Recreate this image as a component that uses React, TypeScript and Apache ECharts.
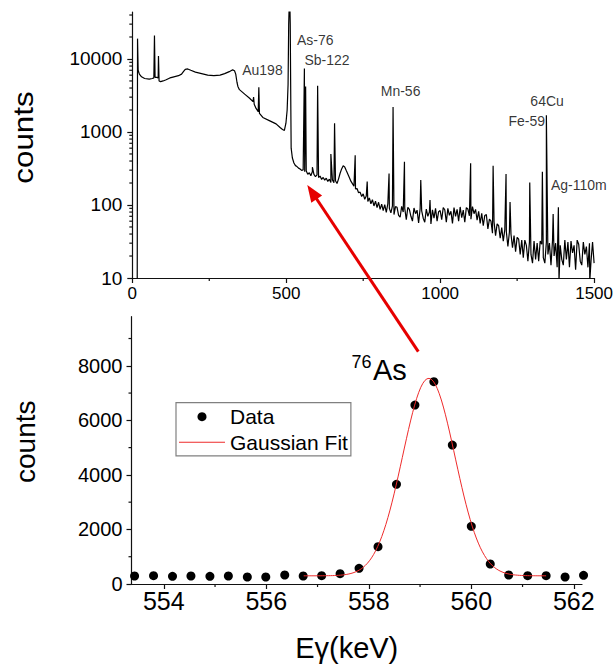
import React, { useEffect, useRef } from 'react';
import * as echarts from 'echarts';

const FONT = '"Liberation Sans", Arial, Helvetica, sans-serif';

// ---------------- Top panel: full gamma spectrum (keV, counts) ----------------
// low-energy part, irregular sampling [energy, counts]
const SPEC_LOW: [number, number][] = [
  [16, 9], [17, 19000], [19, 7000], [23, 6200], [30, 5700], [40, 5400], [55, 5300], [65, 5400],
  [70, 5500], [72, 21000], [74, 5600], [80, 5600], [84, 5500], [85, 11000], [87, 5000], [92, 4900],
  [100, 5000], [110, 5200], [122, 5500], [135, 5700], [150, 5900], [160, 6200], [166, 6700], [172, 7200],
  [180, 7300], [190, 7000], [205, 6600], [225, 6300], [245, 6000], [265, 5900], [285, 6000], [300, 6300],
  [315, 6700], [326, 7100], [332, 6900], [336, 6200], [340, 4800], [343, 4200], [348, 3800], [365, 3300],
  [381, 2900], [392, 2600], [394, 3000], [396, 2400], [402, 2100], [409, 1900], [411, 4100], [413, 1800],
  [424, 1580], [445, 1430], [467, 1290], [480, 1150], [488, 1080], [494, 1050], [499, 1320], [503, 2000],
  [506, 4500], [508, 30000], [511, 90000], [513, 30000], [515, 2000], [516, 600],
];
// continuum channels from 520 keV in 5 keV steps
const SPEC_CONT_START = 520;
const SPEC_CONT_STEP = 5;
const SPEC_CONT: number[] = [
  440, 376, 346, 336, 320, 311, 298, 302, 286, 292,
  264, 276, 251, 288, 263, 244, 259, 238, 249, 224,
  238, 219, 233, 210, 226, 204, 221, 202, 215, 197,
  228, 272, 312, 344, 332, 296, 266, 238, 212, 196,
  181, 166, 168, 147, 150, 131, 142, 120, 133, 112,
  125, 104, 118, 97, 113, 92, 109, 87, 103, 84,
  101, 79, 104, 90, 78, 97, 74, 95, 93, 72,
  68, 96, 80, 90, 63, 93, 87, 70, 60, 91,
  76, 85, 57, 89, 83, 66, 58, 88, 70, 80,
  55, 86, 66, 90, 60, 81, 84, 63, 92, 86,
  58, 90, 72, 82, 56, 92, 70, 87, 60, 94,
  67, 85, 58, 92, 88, 71, 64, 95, 76, 87,
  62, 82, 56, 77, 52, 72, 74, 47, 64, 60,
  41, 59, 38, 55, 52, 35, 49, 32, 46, 43,
  27, 43, 40, 26, 38, 23, 36, 34, 21, 33,
  19, 33, 28, 17, 31, 21, 16, 32, 18, 30,
  17, 32, 29, 19, 16, 31, 21, 30, 15, 33,
  20, 30, 14, 32, 28, 18, 15, 33, 18, 31,
  14, 32, 22, 28, 13, 33, 29, 17, 15, 31,
  21, 27, 14, 30, 17, 31, 16,
];
// photopeaks above the continuum [energy, counts]
const SPEC_PEAKS: [number, number][] = [
  [559, 7400], [563, 4200], [585, 330], [602, 4300], [645, 500], [657, 1320], [724, 480], [763, 210],
  [834, 270], [847, 2200], [884, 390], [937, 220], [967, 117], [1099, 372], [1172, 345], [1214, 265],
  [1227, 110], [1291, 203], [1332, 285], [1345, 1700], [1367, 75], [1384, 93], [1386, 9], [1486, 9],
];
// nuclide annotations
const LABEL_NAMES = ['As-76', 'Sb-122', 'Au198', 'Mn-56', '64Cu', 'Fe-59', 'Ag-110m'];
const LABEL_E = [535, 559, 357, 807, 1293, 1222, 1360];
const LABEL_COUNTS = [18200, 9690, 7060, 3680, 2660, 1430, 188];

const TOP_X_MIN = 0;
const TOP_X_MAX = 1500;
const TOP_Y_MIN = 10;
const TOP_Y_MAX = 44000;
const TOP_X_TICKS = [0, 500, 1000, 1500];
const TOP_X_MINOR = [250, 750, 1250];
const TOP_Y_TICKS = [10, 100, 1000, 10000];
const TOP_Y_MINOR = [
  20, 30, 40, 50, 60, 70, 80, 90,
  200, 300, 400, 500, 600, 700, 800, 900,
  2000, 3000, 4000, 5000, 6000, 7000, 8000, 9000,
  20000, 30000, 40000,
];

// ---------------- Bottom panel: 76As 559 keV peak ----------------
const PEAK_E: number[] = [
  553.43, 553.80, 554.17, 554.53, 554.90, 555.26, 555.63, 555.99, 556.36, 556.72,
  557.08, 557.44, 557.81, 558.18, 558.54, 558.90, 559.27, 559.63, 560.00, 560.37,
  560.73, 561.10, 561.46, 561.83, 562.19,
];
const PEAK_COUNTS: number[] = [
  293, 305, 281, 293, 281, 293, 257, 257, 330, 293,
  305, 379, 574, 1368, 3653, 6560, 7416, 5094, 2114, 733,
  330, 305, 305, 257, 317,
];
// Gaussian fit parameters: y = offset + amplitude * exp(-(x - centroid)^2 / (2 sigma^2))
const FIT_AMPLITUDE = 7240;
const FIT_CENTROID = 559.17;
const FIT_SIGMA = 0.51;
const FIT_OFFSET = 300;
const FIT_RANGE = [556.73, 561.46];
const FIT_STEP = 0.04;

const BOT_X_MIN = 553.37;
const BOT_X_MAX = 562.16;
const BOT_Y_MIN = 0;
const BOT_Y_MAX = 9800;
const BOT_X_TICKS = [554, 556, 558, 560, 562];
const BOT_X_MINOR = [555, 557, 559, 561];
const BOT_Y_TICKS = [0, 2000, 4000, 6000, 8000];
const BOT_Y_MINOR = [1000, 3000, 5000, 7000, 9000];

const AXIS_COLOR = '#111';

// custom series that draws short outward minor ticks through the axes' own scales
function minorTickSeries(gridIdx: number, dir: 'x' | 'y', points: [number, number][]) {
  return {
    type: 'custom',
    xAxisIndex: gridIdx,
    yAxisIndex: gridIdx,
    silent: true,
    clip: false,
    z: 10,
    data: points,
    renderItem: (params: any, api: any) => {
      const p = api.coord([api.value(0), api.value(1)]);
      const shape =
        dir === 'x'
          ? { x1: p[0], y1: p[1], x2: p[0], y2: p[1] + 3 }
          : { x1: p[0] - 3, y1: p[1], x2: p[0], y2: p[1] };
      return { type: 'line', shape, style: { stroke: AXIS_COLOR, lineWidth: 1.2 } };
    },
  };
}

function buildOption() {
  const spectrum: [number, number][] = [
    ...SPEC_LOW,
    ...SPEC_CONT.map((c, i) => [SPEC_CONT_START + i * SPEC_CONT_STEP, c] as [number, number]),
    ...SPEC_PEAKS,
  ].sort((a, b) => a[0] - b[0]);

  const fit: [number, number][] = [];
  const nFit = Math.round((FIT_RANGE[1] - FIT_RANGE[0]) / FIT_STEP);
  for (let i = 0; i <= nFit; i++) {
    const x = FIT_RANGE[0] + ((FIT_RANGE[1] - FIT_RANGE[0]) * i) / nFit;
    const y = FIT_OFFSET + FIT_AMPLITUDE * Math.exp(-((x - FIT_CENTROID) ** 2) / (2 * FIT_SIGMA * FIT_SIGMA));
    fit.push([x, y]);
  }

  const axisLine = { show: true, lineStyle: { color: AXIS_COLOR, width: 1.2 } };
  const tickStyle = { color: AXIS_COLOR, width: 1.2 };
  const fmt = (v: number) => String(Math.round(v));

  const mainAxis = (gridIndex: number, type: string, min: number, max: number, ticks: number[], fontSize: number, margin: number, position: string) => ({
    gridIndex, type, min, max, position,
    axisLine,
    axisTick: { show: true, inside: false, length: 5, lineStyle: tickStyle, customValues: ticks },
    axisLabel: { show: true, customValues: ticks, fontSize, color: '#000', margin, fontFamily: FONT, formatter: fmt },
    splitLine: { show: false },
    minorTick: { show: false },
    minorSplitLine: { show: false },
  });

  return {
    animation: false,
    backgroundColor: '#fff',
    textStyle: { fontFamily: FONT },
    grid: [
      { left: 132.3, top: 12, width: 463.7, height: 266 },
      { left: 131.5, top: 316.7, width: 450.5, height: 267.3 },
    ],
    xAxis: [
      mainAxis(0, 'value', TOP_X_MIN, TOP_X_MAX, TOP_X_TICKS, 17, 7, 'bottom'),
      mainAxis(1, 'value', BOT_X_MIN, BOT_X_MAX, BOT_X_TICKS, 25, 4, 'bottom'),
    ],
    yAxis: [
      { ...mainAxis(0, 'log', TOP_Y_MIN, TOP_Y_MAX, TOP_Y_TICKS, 19, 10, 'left'), logBase: 10 },
      mainAxis(1, 'value', BOT_Y_MIN, BOT_Y_MAX, BOT_Y_TICKS, 20, 9, 'left'),
    ],
    legend: {
      left: 176,
      top: 402.7,
      orient: 'vertical',
      padding: [3.5, 3, 3, 3],
      itemGap: 4.6,
      itemWidth: 46,
      itemHeight: 9,
      borderColor: '#808080',
      borderWidth: 1.2,
      borderRadius: 0,
      backgroundColor: '#fff',
      selectedMode: false,
      textStyle: { fontSize: 21, color: '#000', fontFamily: FONT },
      data: [
        { name: 'Data', icon: 'circle', itemStyle: { color: '#000', opacity: 1 } },
        { name: 'Gaussian Fit', icon: 'path://M0 0H46V1H0Z', itemStyle: { color: '#ee2b2b', opacity: 1 } },
      ],
    },
    series: [
      {
        name: 'Spectrum',
        type: 'line',
        xAxisIndex: 0,
        yAxisIndex: 0,
        data: spectrum,
        symbol: 'none',
        showSymbol: false,
        clip: true,
        lineStyle: { color: '#000', width: 1.2 },
        itemStyle: { color: '#000' },
        silent: true,
        z: 2,
      },
      {
        name: 'Labels',
        type: 'scatter',
        xAxisIndex: 0,
        yAxisIndex: 0,
        symbolSize: 0,
        silent: true,
        clip: false,
        itemStyle: { color: 'transparent' },
        data: LABEL_NAMES.map((n, i) => ({ name: n, value: [LABEL_E[i], LABEL_COUNTS[i]] })),
        label: {
          show: true,
          position: 'right',
          distance: 0,
          formatter: '{b}',
          fontSize: 14,
          color: '#000',
          fontFamily: FONT,
        },
        z: 5,
      },
      {
        name: 'Data',
        type: 'scatter',
        xAxisIndex: 1,
        yAxisIndex: 1,
        data: PEAK_E.map((e, i) => [e, PEAK_COUNTS[i]]),
        symbol: 'circle',
        symbolSize: 9,
        clip: false,
        itemStyle: { color: '#000', opacity: 1 },
        silent: true,
        z: 3,
      },
      {
        name: 'Gaussian Fit',
        type: 'line',
        xAxisIndex: 1,
        yAxisIndex: 1,
        data: fit,
        symbol: 'none',
        showSymbol: false,
        lineStyle: { color: '#ee2b2b', width: 1 },
        itemStyle: { color: '#ee2b2b' },
        silent: true,
        z: 4,
      },
      minorTickSeries(0, 'x', TOP_X_MINOR.map((v) => [v, TOP_Y_MIN] as [number, number])),
      minorTickSeries(0, 'y', TOP_Y_MINOR.map((v) => [TOP_X_MIN, v] as [number, number])),
      minorTickSeries(1, 'x', BOT_X_MINOR.map((v) => [v, BOT_Y_MIN] as [number, number])),
      minorTickSeries(1, 'y', BOT_Y_MINOR.map((v) => [BOT_X_MIN, v] as [number, number])),
    ],
    graphic: [
      {
        type: 'text', x: 23.5, y: 137.5, rotation: Math.PI / 2, scaleX: 1.12,
        style: { text: 'counts', fontSize: 28, fontFamily: FONT, fill: '#000', align: 'center', verticalAlign: 'middle' },
      },
      {
        type: 'text', x: 25, y: 441.7, rotation: Math.PI / 2,
        style: { text: 'counts', fontSize: 28, fontFamily: FONT, fill: '#000', align: 'center', verticalAlign: 'middle' },
      },
      {
        type: 'text', x: 346.7, y: 648,
        style: { text: 'Eγ(keV)', fontSize: 29, fontFamily: FONT, fill: '#000', align: 'center', verticalAlign: 'middle' },
      },
      {
        type: 'text', x: 373, y: 370,
        style: { text: 'As', fontSize: 29, fontFamily: FONT, fill: '#000', align: 'left', verticalAlign: 'middle' },
      },
      {
        type: 'text', x: 351.5, y: 362,
        style: { text: '76', fontSize: 18, fontFamily: FONT, fill: '#000', align: 'left', verticalAlign: 'middle' },
      },
      {
        type: 'line',
        shape: { x1: 418.3, y1: 351.7, x2: 314, y2: 195 },
        style: { stroke: '#e60000', lineWidth: 3 },
        z: 100,
      },
      {
        type: 'polygon',
        shape: { points: [[307.3, 185], [322.1, 195.5], [311.3, 202.7]] },
        style: { fill: '#e60000' },
        z: 100,
      },
    ],
  };
}

export default function App() {
  const ref = useRef<HTMLDivElement>(null);
  useEffect(() => {
    if (!ref.current) return;
    const chart = echarts.init(ref.current, undefined, { renderer: 'svg' });
    chart.setOption(buildOption() as any);
    return () => chart.dispose();
  }, []);
  return (
    <div
      ref={ref}
      style={{ position: 'fixed', left: 0, top: 0, width: 616, height: 668, background: '#fff' }}
    />
  );
}
